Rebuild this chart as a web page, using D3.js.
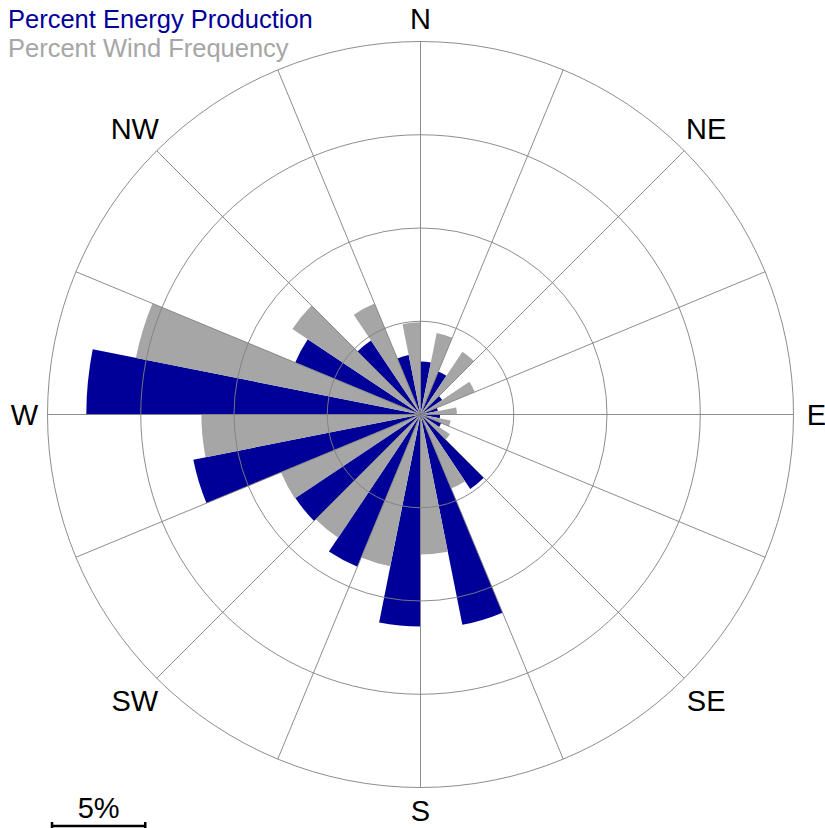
<!DOCTYPE html>
<html>
<head>
<meta charset="utf-8">
<script src="https://cdn.jsdelivr.net/npm/d3@7"></script>
<style>
  html, body { margin: 0; padding: 0; background: #fff; }
  svg { display: block; font-family: "Liberation Sans", Arial, sans-serif; }
</style>
</head>
<body>
<svg id="rose" width="825" height="828"></svg>
<script>
// 16 direction sectors, clockwise from north
const sectors = ["N","NNE","NE","ENE","E","ESE","SE","SSE","S","SSW","SW","WSW","W","WNW","NW","NNW"];
// Percent of energy production per sector
const energyPct = [2.84, 2.5, 1.4, 0.95, 1.05, 1.2, 4.8, 11.5, 11.37, 8.84, 8.07, 12.42, 17.92, 7.27, 4.78, 3.25];
// Percent of time the wind blows from each sector
const freqPct = [4.45, 4.05, 3.15, 1.95, 1.65, 1.9, 4.3, 7.5, 8.3, 7.95, 8.1, 11.75, 15.56, 8.26, 6.44, 4.94];
// Concentric rings (percent)
const ringTicks = [5, 10, 15, 20];
// Compass labels and their bearings
const compassLabels = ["N","NE","E","SE","S","SW","W","NW"];
const compassBearings = [0, 45, 90, 135, 180, 225, 270, 315];
const legendItems = ["Percent Energy Production", "Percent Wind Frequency"];
const scaleBarPct = 5;

const energyColor = "#000099";
const freqColor = "#a6a6a6";
const gridColor = "#808080";

const svg = d3.select("#rose");
const cx = 420.5, cy = 414.5;
const rMax = 373;

const r = d3.scaleLinear().domain([0, 20]).range([0, rMax]);
const angle = d3.scaleBand().domain(sectors).range([0, 2 * Math.PI]).paddingInner(0).paddingOuter(0);
const half = angle.bandwidth() / 2;

const g = svg.append("g").attr("transform", `translate(${cx},${cy})`);

const arc = d3.arc().innerRadius(0);

// Energy bars: first half of each sector
g.append("g").selectAll("path")
  .data(sectors.map((s, i) => ({ s, v: energyPct[i] })))
  .join("path")
  .attr("d", d => arc({ outerRadius: r(d.v), startAngle: angle(d.s), endAngle: angle(d.s) + half }))
  .attr("fill", energyColor);

// Frequency bars: second half of each sector
g.append("g").selectAll("path")
  .data(sectors.map((s, i) => ({ s, v: freqPct[i] })))
  .join("path")
  .attr("d", d => arc({ outerRadius: r(d.v), startAngle: angle(d.s) + half, endAngle: angle(d.s) + 2 * half }))
  .attr("fill", freqColor);

// Grid rings
g.append("g").selectAll("circle")
  .data(ringTicks)
  .join("circle")
  .attr("r", d => r(d))
  .attr("fill", "none")
  .attr("stroke", gridColor)
  .attr("stroke-width", 0.9);

// Radial sector boundaries
g.append("g").selectAll("line")
  .data(sectors)
  .join("line")
  .attr("x1", 0).attr("y1", 0)
  .attr("x2", d => r(20) * Math.sin(angle(d)))
  .attr("y2", d => -r(20) * Math.cos(angle(d)))
  .attr("stroke", gridColor)
  .attr("stroke-width", 0.9);

// Compass labels: cardinals sit a little closer than the diagonals
const labelRadius = b => (b % 90 === 0 ? 396 : 404);
g.append("g").selectAll("text")
  .data(compassLabels.map((t, i) => ({ t, b: compassBearings[i] })))
  .join("text")
  .attr("x", d => labelRadius(d.b) * Math.sin(d.b * Math.PI / 180))
  .attr("y", d => -labelRadius(d.b) * Math.cos(d.b * Math.PI / 180))
  .attr("text-anchor", "middle")
  .attr("dy", "0.36em")
  .attr("font-size", 29)
  .attr("fill", "#000")
  .text(d => d.t);

// Legend
svg.append("g").selectAll("text")
  .data(legendItems)
  .join("text")
  .attr("x", 8)
  .attr("y", (d, i) => 28 + i * 29)
  .attr("font-size", 25.5)
  .attr("fill", (d, i) => i === 0 ? energyColor : freqColor)
  .text(d => d);

// Scale bar
const sbX = 52, sbY = 826;
const sb = svg.append("g").attr("transform", `translate(${sbX},${sbY})`);
sb.append("line").attr("x1", 0).attr("x2", r(scaleBarPct)).attr("y1", 0).attr("y2", 0)
  .attr("stroke", "#000").attr("stroke-width", 2.5);
sb.append("line").attr("x1", 0).attr("x2", 0).attr("y1", -4).attr("y2", 4)
  .attr("stroke", "#000").attr("stroke-width", 2.5);
sb.append("line").attr("x1", r(scaleBarPct)).attr("x2", r(scaleBarPct)).attr("y1", -4).attr("y2", 4)
  .attr("stroke", "#000").attr("stroke-width", 2.5);
sb.append("text").attr("x", r(scaleBarPct) / 2).attr("y", -8)
  .attr("text-anchor", "middle").attr("font-size", 29).attr("fill", "#000")
  .text(scaleBarPct + "%");
</script>
</body>
</html>
